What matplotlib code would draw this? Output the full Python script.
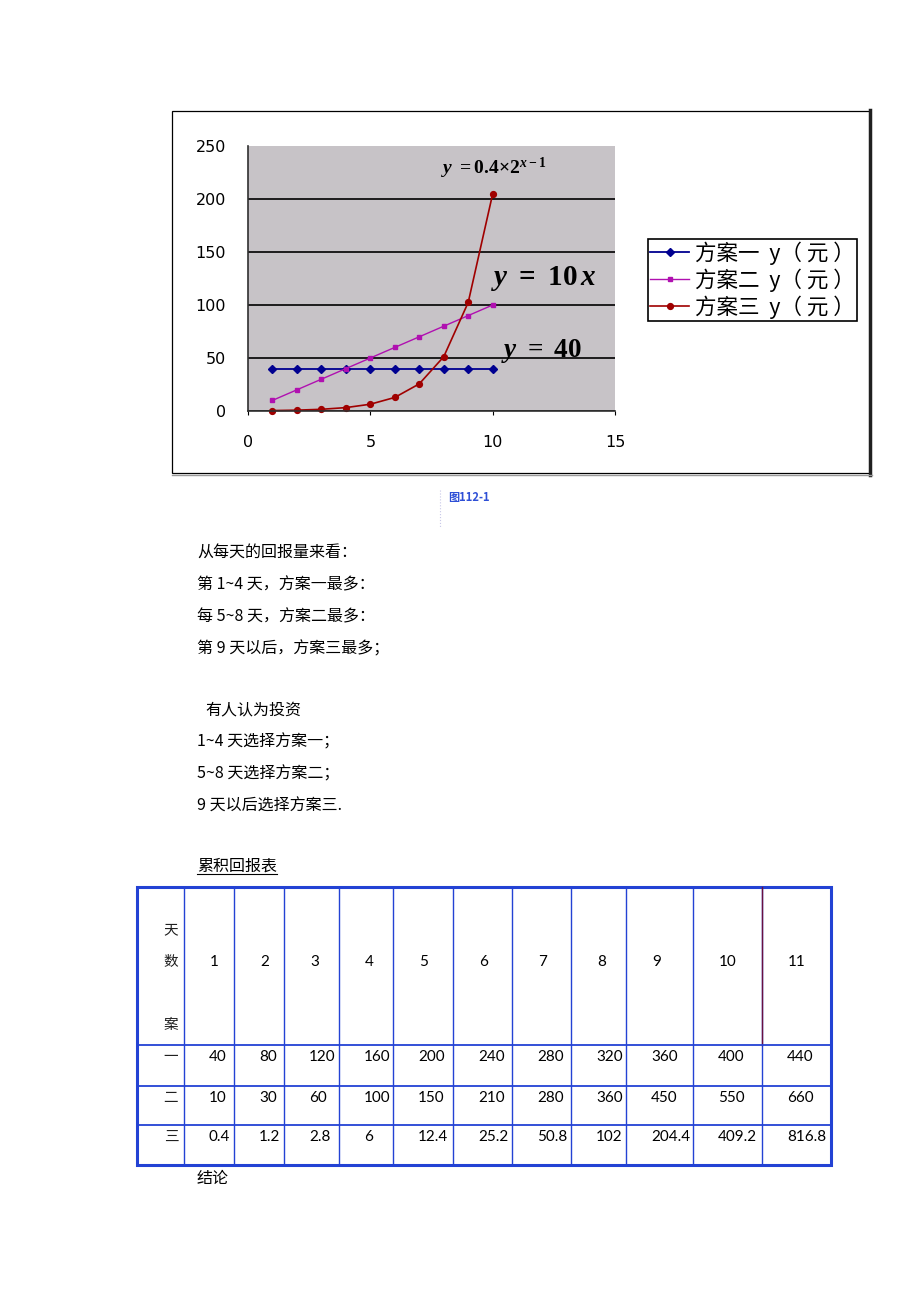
import matplotlib.pyplot as plt
from matplotlib.patches import Rectangle

plt.rcParams['mathtext.fontset'] = 'custom'
plt.rcParams['mathtext.rm'] = 'Liberation Serif:bold'
plt.rcParams['mathtext.it'] = 'Liberation Serif:bold:italic'
plt.rcParams['mathtext.bf'] = 'Liberation Serif:bold'

CJK = ['Noto Sans CJK SC', 'DejaVu Sans']

# chart data (daily return per plan)
days = [1, 2, 3, 4, 5, 6, 7, 8, 9, 10]
plan1 = [40, 40, 40, 40, 40, 40, 40, 40, 40, 40]
plan2 = [10, 20, 30, 40, 50, 60, 70, 80, 90, 100]
plan3 = [0.4, 0.8, 1.6, 3.2, 6.4, 12.8, 25.6, 51.2, 102.4, 204.8]
series_labels = ['方案一  y（ 元 ）', '方案二  y（ 元 ）', '方案三  y（ 元 ）']
x_ticks = [0, 5, 10, 15]
y_ticks = [0, 50, 100, 150, 200, 250]

# page text
para1 = ['从每天的回报量来看：', '第 1~4 天，方案一最多：',
         '每 5~8 天，方案二最多：', '第 9 天以后，方案三最多；']
para2 = ['有人认为投资', '1~4 天选择方案一；', '5~8 天选择方案二；', '9 天以后选择方案三.']

# cumulative return table
table_days = ['1', '2', '3', '4', '5', '6', '7', '8', '9', '10', '11']
table_rows = ['一', '二', '三']
cum1 = [40, 80, 120, 160, 200, 240, 280, 320, 360, 400, 440]
cum2 = [10, 30, 60, 100, 150, 210, 280, 360, 450, 550, 660]
cum3 = [0.4, 1.2, 2.8, 6, 12.4, 25.2, 50.8, 102, 204.4, 409.2, 816.8]

W, H = 920, 1302
fig = plt.figure(figsize=(W / 100, H / 100), dpi=100)
page = fig.add_axes([0, 0, 1, 1])
page.set_xlim(0, W)
page.set_ylim(H, 0)
page.axis('off')

# chart frame
page.add_patch(Rectangle((172, 111), 698, 362, fill=False, lw=0.9, ec='black'))
page.plot([870, 870], [110, 475], color='#202020', lw=2.5)
page.plot([172, 872], [474.5, 474.5], color='#9a9a9a', lw=1)

# chart
ax = fig.add_axes([248 / W, 1 - 411 / H, (615 - 248) / W, (411 - 146) / H])
ax.set_facecolor('#C7C3C7')
ax.set_xlim(0, 15)
ax.set_ylim(0, 250)
ax.set_xticks(x_ticks)
ax.set_yticks(y_ticks)
ax.yaxis.grid(True, color='black', lw=1.2)
ax.get_ygridlines()[-1].set_visible(False)
ax.set_axisbelow(True)
for s in ['top', 'right']:
    ax.spines[s].set_visible(False)
for s in ['left', 'bottom']:
    ax.spines[s].set_color('#303030')
    ax.spines[s].set_linewidth(1.2)
ax.tick_params(axis='y', length=0, pad=16, labelsize=11.5)
ax.tick_params(axis='x', length=3, direction='out', pad=14, labelsize=11.5)

ax.plot(days, plan1, color='#000090', marker='D', ms=4, lw=1.3,
        label=series_labels[0], clip_on=False)
ax.plot(days, plan2, color='#B010B0', marker='s', ms=3.2, lw=1.0,
        label=series_labels[1], clip_on=False)
ax.plot(days, plan3, color='#A00000', marker='o', ms=4.2, lw=1.2,
        label=series_labels[2], clip_on=False)

ax.text(7.9, 229, r'$y\ =0.4{\times}2^{x-1}$', fontsize=14, va='center', ha='left')
ax.text(9.95, 125, r'$y\ =\ 10\,x$', fontsize=21, va='center', ha='left')
ax.text(10.35, 57, r'$y\ =\ 40$', fontsize=19.5, va='center', ha='left')

leg = ax.legend(loc='upper left', bbox_to_anchor=(648 / W, 1 - 239 / H),
                bbox_transform=fig.transFigure, prop={'family': CJK, 'size': 15.5},
                frameon=True, fancybox=False, edgecolor='black', framealpha=1,
                borderpad=0.1, labelspacing=0.17, handlelength=1.8,
                handletextpad=0.3, borderaxespad=0)
leg.get_frame().set_linewidth(1.2)

# caption
page.text(448, 498, '图112-1', color='#2E4FD6', fontsize=8, family=CJK,
          fontweight='bold', va='center')
page.plot([440, 440], [490, 528], ls=':', color='#c8c8e8', lw=0.8)

# paragraphs
for i, line in enumerate(para1):
    page.text(197, 553 + i * 32, line, fontsize=11.5, family=CJK, va='center')
for i, line in enumerate(para2):
    page.text(205 if i == 0 else 197, 710 + i * 32, line, fontsize=11.5,
              family=CJK, va='center')
page.text(197, 866, '累积回报表', fontsize=11.5, family=CJK, va='center')
page.plot([197, 277], [874, 874], color='black', lw=0.8)
page.text(197, 1178, '结论', fontsize=11.5, family=CJK, va='center')

# table
blue = '#2342D4'
cols = [137, 184, 234, 284, 339, 393, 453, 512, 571, 626, 693, 762, 831]
rows = [887, 1045, 1086, 1125, 1165]
for x in cols[1:-1]:
    page.plot([x, x], [rows[0], rows[-1]], color=blue, lw=1)
page.plot([762, 762], [rows[0], rows[1]], color='#6a1040', lw=1)
for y in rows[1:-1]:
    page.plot([cols[0], cols[-1]], [y, y], color=blue, lw=1.3)
page.add_patch(Rectangle((cols[0], rows[0]), cols[-1] - cols[0], rows[-1] - rows[0],
                         fill=False, ec=blue, lw=2.2))

for ch, y in zip(['天', '数', '案'], [930, 962, 1025]):
    page.text(171, y, ch, fontsize=10.5, family=CJK, ha='center', va='center',
              color='#202020')
for j, d in enumerate(table_days):
    page.text(cols[j + 1] + 26, 962, d, fontsize=11, family='Lato', va='center')
for r, (lab, vals) in enumerate(zip(table_rows, [cum1, cum2, cum3])):
    yc = rows[r + 1] + 12
    page.text(171, yc, lab, fontsize=10.5, family=CJK, ha='center', va='center',
              color='#202020')
    for j, v in enumerate(vals):
        page.text(cols[j + 1] + 25, yc, f'{v:g}', fontsize=11, family='Lato',
                  va='center')

fig.savefig('out.png', dpi=100)
